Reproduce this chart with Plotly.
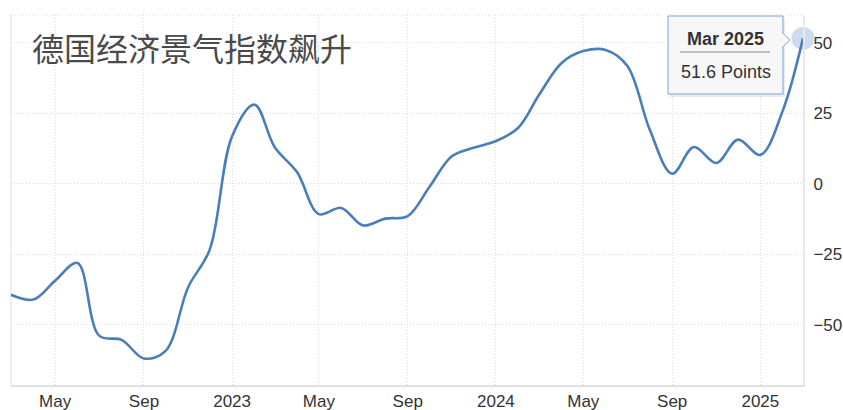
import plotly.graph_objects as go

months = ["2022-03-01","2022-04-01","2022-05-01","2022-06-01","2022-07-01","2022-08-01","2022-09-01",
          "2022-10-01","2022-11-01","2022-12-01","2023-01-01","2023-02-01","2023-03-01","2023-04-01",
          "2023-05-01","2023-06-01","2023-07-01","2023-08-01","2023-09-01","2023-10-01","2023-11-01",
          "2023-12-01","2024-01-01","2024-02-01","2024-03-01","2024-04-01","2024-05-01","2024-06-01",
          "2024-07-01","2024-08-01","2024-09-01","2024-10-01","2024-11-01","2024-12-01","2025-01-01",
          "2025-02-01","2025-03-01"]
values = [-39.3,-41.0,-34.3,-28.0,-53.8,-55.3,-61.9,-59.2,-36.7,-23.3,16.9,28.1,13.0,4.1,
          -10.7,-8.5,-14.7,-12.3,-11.4,-1.1,9.8,12.8,15.2,19.9,31.7,42.9,47.1,47.5,
          41.8,19.2,3.6,13.1,7.4,15.7,10.3,26.0,51.6]
tick_dates = ["2022-05-01","2022-09-01","2023-01-01","2023-05-01","2023-09-01","2024-01-01",
              "2024-05-01","2024-09-01","2025-01-01"]
tick_labels = ["May","Sep","2023","May","Sep","2024","May","Sep","2025"]
y_ticks = [-50,-25,0,25,50]
title_text = "德国经济景气指数飙升"
tip_date = "Mar 2025"
tip_value = "51.6 Points"

LINE = "#4a7ebb"
L, R, T, B = 11, 803, 15, 385
W, H = 843, 410

def px(x):
    return (x - L) / (R - L)

def py(y):
    return (B - y) / (B - T)

fig = go.Figure()
fig.add_trace(go.Scatter(x=[months[-1]], y=[values[-1]], mode="markers",
                         marker=dict(size=23, color="rgba(170,195,228,0.6)", line=dict(width=0)),
                         hoverinfo="skip", cliponaxis=False))
fig.add_trace(go.Scatter(x=months, y=values, mode="lines",
                         line=dict(color=LINE, width=2.6, shape="spline", smoothing=1.0),
                         hoverinfo="skip", cliponaxis=False))

shapes = []
shapes.append(dict(type="rect", xref="paper", yref="paper",
                   x0=px(670), x1=px(785), y0=py(97), y1=py(18),
                   fillcolor="rgba(0,0,0,0.08)", line=dict(width=0), layer="above"))
shapes.append(dict(type="rect", xref="paper", yref="paper",
                   x0=px(668), x1=px(783), y0=py(94), y1=py(16),
                   fillcolor="#f7f7f7", line=dict(color="#7aa3d6", width=1), layer="above"))
shapes.append(dict(type="path", xref="paper", yref="paper",
                   path=f"M {px(782.5)} {py(33)} L {px(790)} {py(40)} L {px(782.5)} {py(47)} Z",
                   fillcolor="#f7f7f7", line=dict(color="#7aa3d6", width=1), layer="above"))
shapes.append(dict(type="line", xref="paper", yref="paper",
                   x0=px(782.5), x1=px(782.5), y0=py(33.5), y1=py(46.5),
                   line=dict(color="#f7f7f7", width=2), layer="above"))
shapes.append(dict(type="line", xref="paper", yref="paper",
                   x0=px(680), x1=px(770), y0=py(52), y1=py(52),
                   line=dict(color="#888888", width=1), layer="above"))
shapes.append(dict(type="line", xref="paper", yref="paper", x0=0, x1=0, y0=0, y1=1,
                   line=dict(color="#e8e8e8", width=1.5), layer="below"))
shapes.append(dict(type="line", xref="paper", yref="paper", x0=0, x1=1, y0=1, y1=1,
                   line=dict(color="#dcdcdc", width=1, dash="1px,2px"), layer="below"))

annotations = [
    dict(text=title_text, xref="paper", yref="paper", x=px(30), y=py(47), xanchor="left", yanchor="middle",
         showarrow=False, font=dict(family="Noto Sans CJK SC", size=32, color="#4a4a4a")),
    dict(text=f"<b>{tip_date}</b>", xref="paper", yref="paper", x=px(725.5), y=py(39), xanchor="center",
         yanchor="middle", showarrow=False, font=dict(family="Liberation Sans, Arial", size=18, color="#333333")),
    dict(text=tip_value, xref="paper", yref="paper", x=px(725.5), y=py(72), xanchor="center",
         yanchor="middle", showarrow=False, font=dict(family="Liberation Sans, Arial", size=18, color="#333333")),
]

fig.update_layout(
    width=W, height=H,
    margin=dict(l=L, r=W - R, t=T, b=H - B, pad=0, autoexpand=False),
    paper_bgcolor="white", plot_bgcolor="white",
    showlegend=False,
    shapes=shapes, annotations=annotations,
    xaxis=dict(type="date", range=["2022-03-01", "2025-03-01"],
               tickvals=tick_dates, ticktext=tick_labels, automargin=False,
               showgrid=True, gridcolor="#dcdcdc", griddash="1px,2px", gridwidth=1,
               showline=True, linecolor="#e0e0e0", linewidth=2,
               ticks="", tickfont=dict(family="Liberation Sans, Arial", size=17, color="#333333"),
               zeroline=False, fixedrange=True),
    yaxis=dict(range=[-71.3, 59.9], side="right", tickvals=y_ticks, automargin=False,
               showgrid=True, gridcolor="#dcdcdc", griddash="1px,2px", gridwidth=1,
               showline=True, linecolor="#e8e8e8", linewidth=2, mirror=False,
               ticks="", ticklabelstandoff=5,
               tickfont=dict(family="Liberation Sans, Arial", size=17, color="#333333"),
               zeroline=False, fixedrange=True),
)

fig.write_html("out.html", config={"displayModeBar": False},
               post_script="document.body.style.margin='0px';document.body.style.overflow='hidden';")
